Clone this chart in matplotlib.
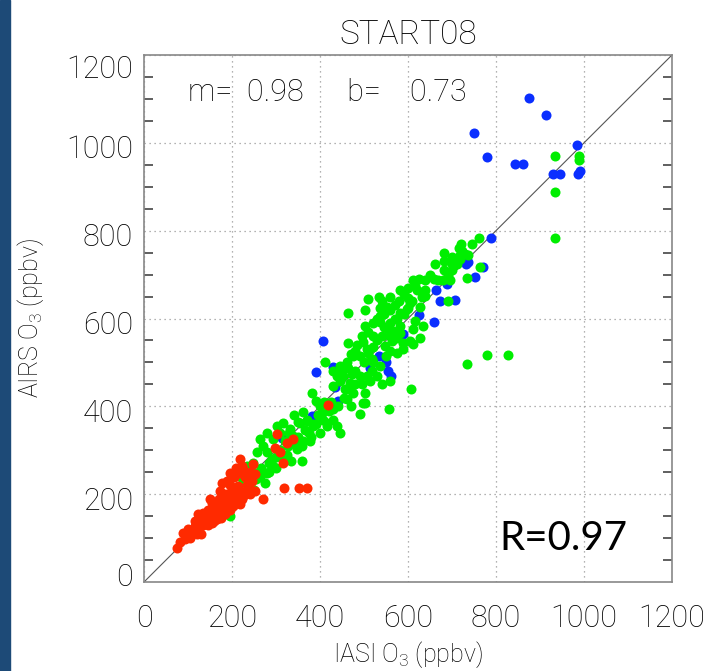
"""
AIRS vs IASI O3 scatter, START08 campaign.
"""
import matplotlib
matplotlib.use("Agg")
import matplotlib.pyplot as plt
import matplotlib.transforms as mtransforms
from matplotlib.patches import Rectangle
from matplotlib.ticker import MultipleLocator

plt.rcParams["font.family"] = ["Roboto", "DejaVu Sans"]
plt.rcParams["font.weight"] = "light"
plt.rcParams["axes.titleweight"] = "light"
plt.rcParams["axes.labelweight"] = "light"
plt.rcParams["mathtext.default"] = "regular"

title = "START08"
xlabel = "IASI O$_3$ (ppbv)"
ylabel = "AIRS O$_3$ (ppbv)"
fit_text = "m=  0.98      b=    0.73"
r_text = "R=0.97"

# blue points (IASI, AIRS) in ppbv
blue_x = [875, 914, 749, 779, 843, 862, 983, 929, 945, 986, 991, 788, 737, 731,
          771, 752, 664, 688, 707, 673, 625, 659, 406, 589, 534, 514, 550, 555,
          561, 429, 390, 434, 442, 381, 313]
blue_y = [1102, 1064, 1022, 968, 951, 951, 996, 930, 930, 930, 937, 784, 729, 723,
          717, 694, 665, 678, 642, 640, 608, 593, 549, 564, 515, 488, 500, 480,
          469, 490, 478, 443, 412, 378, 329]

# green points
green_x = [933, 989, 989, 933, 933, 762, 681, 681, 661, 681, 701, 707, 718, 723,
           730, 737, 763, 701, 735, 612, 639, 669, 680, 695, 718, 711,
           582, 621, 639, 510, 534, 559, 542, 601, 605, 627, 631, 639, 692, 502,
           536, 553, 464, 536, 574, 582, 597, 502, 536, 555, 582, 616, 634, 612,
           567, 582, 574, 563, 589, 605, 627, 464, 498, 548, 559, 551, 574, 589,
           612, 480, 506, 518, 491, 476, 536, 518, 506, 514, 495, 502, 498, 461,
           464, 472, 453, 445, 468, 457, 476, 461, 445, 430, 438, 449, 411, 430,
           521, 510, 558, 606, 556, 491, 502, 381, 392, 779, 828, 735, 362, 370,
           385, 400, 415, 438, 445, 407, 430,
           195, 203, 210, 218, 226, 233, 233, 241, 248, 256, 264, 275, 267, 279,
           256, 271, 279, 290, 294, 264, 294, 309, 279, 302, 317, 332, 339, 328,
           347, 358, 335, 355, 370, 385, 415, 377, 362,
           310, 320, 330, 345, 350, 365, 375, 390, 395, 405, 420, 350, 340, 325,
           300, 285, 315, 360, 380, 400, 410, 425, 440, 455, 465, 480, 470, 430,
           240, 255, 265, 250, 285, 300, 230, 215,
           470, 485, 495, 510, 520, 530, 545, 560, 570, 580, 590, 600, 615, 625,
           545, 560, 570, 590, 600, 610, 520, 530, 540, 560, 500, 520, 530, 540,
           480, 490, 650, 660, 690, 700, 715, 745, 720, 695]
green_y = [971, 970, 962, 887, 783, 784, 750, 732, 723, 711, 723, 729, 744, 754,
           748, 745, 718, 710, 692, 688, 688, 688, 688, 688, 736, 723,
           664, 666, 664, 644, 649, 649, 640, 646, 636, 627, 648, 651, 640, 619,
           625, 627, 613, 606, 598, 613, 621, 583, 591, 575, 583, 594, 584, 575,
           571, 568, 556, 549, 545, 549, 556, 545, 546, 537, 526, 515, 522, 530,
           541, 526, 530, 507, 515, 515, 492, 480, 469, 458, 450, 431, 408, 500,
           488, 473, 469, 458, 454, 439, 431, 416, 492, 480, 469, 480, 500, 446,
           534, 522, 458, 439, 395, 382, 407, 431, 412, 517, 517, 496, 386, 370,
           355, 340, 355, 355, 340, 370, 370,
           150, 204, 188, 241, 230, 234, 264, 257, 272, 249, 238, 226, 260, 249,
           295, 310, 295, 279, 264, 325, 325, 340, 340, 355, 363, 348, 332, 310,
           302, 275, 275, 363, 367, 359, 363, 321, 321,
           300, 320, 340, 315, 330, 345, 340, 360, 380, 385, 390, 365, 380, 290,
           285, 270, 280, 310, 330, 400, 410, 410, 400, 420, 440, 450, 400, 395,
           220, 235, 245, 210, 250, 260, 200, 180,
           520, 540, 560, 570, 590, 600, 610, 620, 630, 640, 655, 670, 675, 690,
           580, 590, 600, 610, 625, 640, 560, 550, 560, 560, 500, 500, 470, 450,
           480, 470, 700, 690, 700, 740, 760, 770, 770, 730]

# red points
red_x = [74, 82, 93, 89, 101, 116, 127, 123, 135, 142, 131, 150, 158, 165, 173,
         154, 169, 184, 195, 203, 150, 161, 177, 173, 177, 195, 192, 218, 217,
         214, 218, 226, 233, 241, 248, 252, 245, 226, 222, 180, 192, 203, 218,
         199, 210, 302, 298, 309, 317, 324, 339, 233, 222, 241, 252, 270, 318,
         353, 370, 195, 188, 419, 110, 120, 140, 160, 185, 200, 130,
         95, 105, 115, 125, 135, 145, 155, 165, 170, 180, 190, 200, 210, 145,
         120, 160, 175, 185, 230, 240, 205, 210]
red_y = [78, 90, 97, 112, 120, 128, 143, 154, 158, 143, 135, 162, 150, 143, 158,
         135, 173, 154, 165, 173, 188, 181, 192, 207, 226, 249, 181, 279, 249,
         219, 207, 196, 204, 211, 268, 245, 230, 257, 264, 188, 169, 177, 177,
         192, 184, 336, 306, 295, 272, 317, 325, 222, 188, 200, 207, 188, 213,
         213, 213, 222, 230, 402, 115, 135, 150, 170, 200, 215, 110,
         105, 100, 140, 125, 130, 165, 180, 160, 190, 175, 200, 195, 200, 130,
         110, 140, 145, 165, 240, 250, 240, 260]

fig = plt.figure(figsize=(7.11, 6.71), dpi=100)
fig.patches.append(Rectangle((0, 0), 10 / 711, 1, transform=fig.transFigure,
                             color="#1d4a77", zorder=0))
ax = fig.add_axes([144 / 711, 89 / 671, 528 / 711, 527 / 671])

ax.axline((0, 0), slope=1, color="#555555", lw=0.8, zorder=1)
ms = 52
ax.scatter(blue_x, blue_y, s=ms, color="#0a2eff", lw=0, zorder=2)
ax.scatter(green_x, green_y, s=ms, color="#00ee00", lw=0, zorder=3)
ax.scatter(red_x, red_y, s=ms, color="#ff2a00", lw=0, zorder=4)

ax.set_xlim(0, 1200)
ax.set_ylim(0, 1200)
ax.xaxis.set_major_locator(MultipleLocator(200))
ax.yaxis.set_major_locator(MultipleLocator(200))
ax.yaxis.set_minor_locator(MultipleLocator(50))
ax.grid(True, which="major", color="#999999", lw=0.9, ls=(0, (1, 3)))
ax.set_axisbelow(True)

for s in ax.spines.values():
    s.set_color("#888888")
    s.set_linewidth(1.2)

ax.tick_params(axis="x", which="both", length=0, pad=16, labelsize=22,
               labelcolor="black")
ax.tick_params(axis="y", which="major", length=0, pad=8, labelsize=22,
               labelcolor="black")
ax.tick_params(axis="y", which="minor", length=6.5, width=1.2, color="#444444",
               direction="in", left=True, right=True)

# shift y tick labels a little like the original
for lab, v in zip(ax.get_yticklabels(), ax.get_yticks()):
    dy = -4
    if v == 1200:
        dy = -12
    elif v == 0:
        dy = 8
    lab.set_transform(lab.get_transform() +
                      mtransforms.ScaledTranslation(0, dy / 100, fig.dpi_scale_trans))

ax.set_title(title, fontsize=24, pad=8, weight="light")
ax.set_xlabel(xlabel, fontsize=18, labelpad=4, weight="light", color="black")
ax.set_ylabel(ylabel, fontsize=18, labelpad=14, weight="light", color="black")

ax.text(100, 1115, fit_text, fontsize=22, ha="left", va="center")
ax.text(954, 100, r_text, fontsize=29, ha="center", va="center",
        family=["Lato", "DejaVu Sans"], weight="normal")

plt.savefig("out.png", dpi=100)
